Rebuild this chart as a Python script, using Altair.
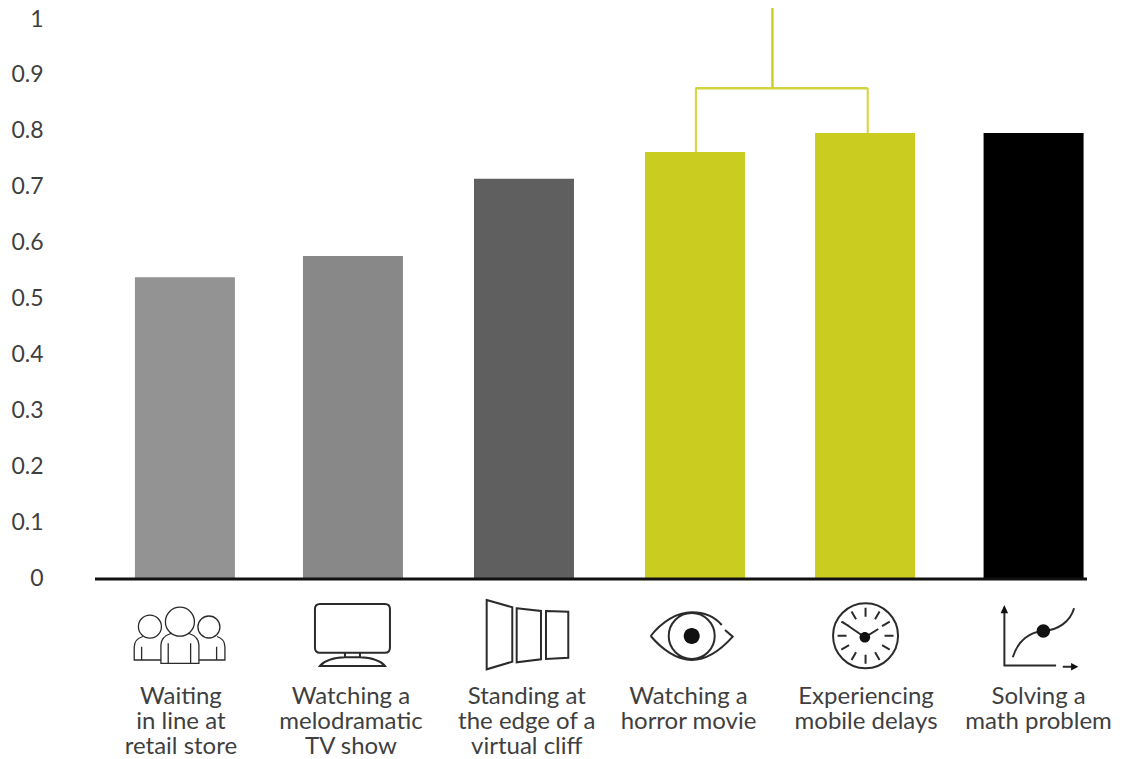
import altair as alt
import pandas as pd

categories = ["Waiting in line", "Watching TV show", "Standing at cliff",
              "Watching horror", "Mobile delays", "Math problem"]
labels = ["Waiting\nin line at\nretail store",
          "Watching a\nmelodramatic\nTV show",
          "Standing at\nthe edge of a\nvirtual cliff",
          "Watching a\nhorror movie",
          "Experiencing\nmobile delays",
          "Solving a\nmath problem"]
values = [0.54, 0.578, 0.716, 0.764, 0.798, 0.798]
colors = ["#939393", "#888888", "#5e5f5e", "#cacd20", "#cacd20", "#000000"]
bar_nudges = [0, -1.8, -0.6, 0.6, 0.8, -0.5]
label_nudges = [-4, -3.8, 2.2, -5.9, 1.8, 4.5]
icon_nudges = [-5, -2.3, 2.4, -2.7, 1.3, 6]
y_ticks = [0, 0.1, 0.2, 0.3, 0.4, 0.5, 0.6, 0.7, 0.8, 0.9, 1]
bracket_level = 0.878
bracket_top = 1.03

LIME = "#cacd20"
INK = "#2b2b2b"
TEXT = "#3f3f3f"
FONT = "Lato"


def circ(cx, cy, r):
    return (f"M{cx-r},{cy} A{r},{r} 0 1,1 {cx+r},{cy} "
            f"A{r},{r} 0 1,1 {cx-r},{cy} Z ")


people = (circ(0, -13.3, 14.5) + circ(-30, -8.3, 11.5) + circ(29, -8, 11) +
          "M-8,-2 C-14,0 -19,4 -19,10 L-19,28.3 L19,28.3 L19,10 C19,4 14,0 8,-2 "
          "M-11.7,8.3 L-11.7,28.3 M10.7,8.3 L10.7,28.3 "
          "M-19,25 L-45.7,25 L-45.7,12 C-45.7,6 -42,3 -37,1.5 M-38.3,11.7 L-38.3,25 "
          "M19,25 L45,25 L45,12 C45,6 42,3 37,1.5 M36.7,11.7 L36.7,25")
tv = ("M-32.5,-31 L32.5,-31 Q37.5,-31 37.5,-26 L37.5,12.7 Q37.5,17.7 32.5,17.7 "
      "L-32.5,17.7 Q-37.5,17.7 -37.5,12.7 L-37.5,-26 Q-37.5,-31 -32.5,-31 Z "
      "M-7.5,17.7 L-7.5,22.3 L7.5,22.3 L7.5,17.7 "
      "M-32.5,31 Q-26,23 -7.5,22.3 L7.5,22.3 Q26,23 32.5,31 Z")
cliff = ("M-40.3,-35 L-14.7,-27.7 L-14.7,26.7 L-40.3,34.3 Z "
         "M-10.3,-26.7 L14,-24 L14,24.3 L-10.3,27.3 Z "
         "M19,-24 L41.3,-23.3 L41.3,22.7 L19,24 Z")
eye = ("M-41,1 C-30,-13 -15,-22.7 0,-22.7 C12,-22.7 23,-18 30,-10 "
       "M33.3,-5 L41,1.7 C30,14 15,25 0,25 C-15,25 -30,14 -41,1 " + circ(0, 1, 23))
clock = (circ(0, 0.7, 32.5) +
         "M0,-18.3 L0,-27.3 M9.5,-15.8 L14,-23.5 M16.5,-8.8 L24.2,-13.3 "
         "M19,0.7 L28,0.7 M16.5,10.2 L24.2,14.7 M9.5,17.2 L14,24.9 "
         "M0,19.7 L0,28.7 M-9.5,17.2 L-14,24.9 M-16.5,10.2 L-24.2,14.7 "
         "M-19,0.7 L-28,0.7 M-16.5,-8.8 L-24.2,-13.3 M-9.5,-15.8 L-14,-23.5 "
         "M-0.7,2.3 L-23.3,-13.3 M-0.7,2.3 L12.7,-6")
graph = ("M-35.7,-24 L-35.7,30.5 L16,30.5 M22.7,31.7 L34,31.7 "
         "M-27.3,22.3 C-22,5 -10,-3 3.3,-4 C18,-5 30,-13 34,-26.7")
icons = [people, tv, cliff, eye, clock, graph]
icon_fills = ["", "", "", circ(0, 1, 8), circ(-0.7, 2.3, 5.3),
              circ(3.3, -4, 6.7) + "M-35.7,-30 L-39.5,-21.7 L-32,-21.7 Z "
              "M38.3,31.7 L31,28 L31,35.4 Z"]
icon_widths = [1.3, 2, 2, 2, 2, 2]

x_scale = alt.Scale(domain=categories, range=[92, 1111],
                    paddingInner=0.41, paddingOuter=0.205)
y_scale = alt.Scale(domain=[0, 1], range=[571, 12], clamp=False)
X = alt.X("cat:N", scale=x_scale, axis=None)
Y_AX = alt.Axis(values=y_ticks, format="~g", domain=False, ticks=False, grid=False,
                title=None, labelFont=FONT, labelFontSize=23, labelColor=TEXT,
                labelAlign="right", labelBaseline="middle", offset=-35,
                labelPadding=0, labelOffset=-1)


def Y(field):
    return alt.Y(field, scale=y_scale, axis=Y_AX)


layers = []
for c, v, col, n in zip(categories, values, colors, bar_nudges):
    layers.append(alt.Chart(pd.DataFrame({"cat": [c], "v": [v]}))
                  .mark_bar(width=100, color=col, xOffset=n)
                  .encode(x=X, y=Y("v:Q")))

# baseline
layers.append(alt.Chart(pd.DataFrame({"v": [0]}))
              .mark_rule(color="#111111", strokeWidth=3)
              .encode(x=alt.value(87), x2=alt.value(1079), y=Y("v:Q")))

# bracket
left, right = categories[3], categories[4]
for c, top, off in [(left, values[3], 1.5), (right, values[4], 3.5)]:
    layers.append(alt.Chart(pd.DataFrame({"cat": [c], "a": [top], "b": [bracket_level]}))
                  .mark_rule(color=LIME, strokeWidth=2.2, opacity=0.8, xOffset=off)
                  .encode(x=X, y=Y("a:Q"), y2="b:Q"))
layers.append(alt.Chart(pd.DataFrame({"cat": [left], "a": [bracket_level], "b": [bracket_top]}))
              .mark_rule(color=LIME, strokeWidth=2.4, xOffset=78)
              .encode(x=X, y=Y("a:Q"), y2="b:Q"))
layers.append(alt.Chart(pd.DataFrame({"cat": [left], "c2": [right], "a": [bracket_level]}))
              .mark_rule(color=LIME, strokeWidth=2.4, opacity=0.85, xOffset=1, x2Offset=3.5)
              .encode(x=X, x2="c2:N", y=Y("a:Q")))

# icons and captions
for c, lab, path, fill, sw, dn, ln in zip(categories, labels, icons, icon_fills,
                                         icon_widths, icon_nudges, label_nudges):
    base = alt.Chart(pd.DataFrame({"cat": [c], "lab": [lab.split("\n")]}))
    layers.append(base.mark_point(shape=path, size=4, filled=False, stroke=INK,
                                  strokeWidth=sw, opacity=1, xOffset=dn)
                  .encode(x=X, y=alt.value(627)))
    if fill:
        layers.append(base.mark_point(shape=fill, size=4, filled=True, color="#111111",
                                      opacity=1, xOffset=dn)
                      .encode(x=X, y=alt.value(627)))
    layers.append(base.mark_text(font=FONT, fontSize=24, color=TEXT, align="center",
                                 baseline="top", lineHeight=25, dx=ln)
                  .encode(x=X, y=alt.value(677), text="lab:N"))

chart = (alt.layer(*layers)
         .properties(width=1106, height=751, padding=0, background="white",
                     autosize=alt.AutoSizeParams(type="none"))
         .configure_view(stroke="transparent", clip=False))

chart.save("out.html", embed_options={"renderer": "svg", "actions": False})
